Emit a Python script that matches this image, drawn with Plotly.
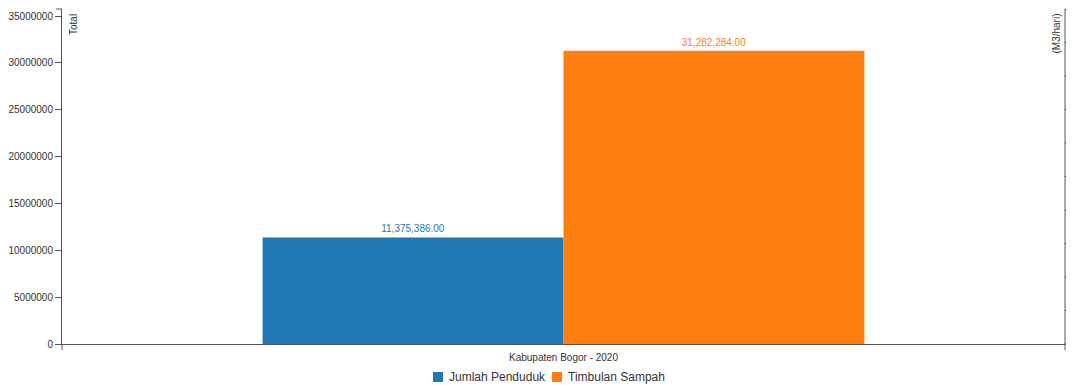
import plotly.graph_objects as go

categories = ["Kabupaten Bogor - 2020"]
jumlah_penduduk = [11375386]
timbulan_sampah = [31282284]
series_names = ["Jumlah Penduduk", "Timbulan Sampah"]
colors = ["#1f77b4", "#ff7f0e"]
y_ticks = [0, 5000000, 10000000, 15000000, 20000000, 25000000, 30000000, 35000000]
y2_ticks = [0, 0.1, 0.2, 0.3, 0.4, 0.5, 0.6, 0.7, 0.8, 0.9, 1.0]

FONT = "Liberation Sans, Arial, sans-serif"
AXIS_COLOR = "#555555"
TEXT_COLOR = "#333333"

# the page body adds an 8px offset; layout below is in figure pixels
OFF = 8
W, H = 1074 - OFF, 385 - OFF
PLOT_L, PLOT_R, PLOT_T, PLOT_B = 62 - OFF, 1065 - OFF, 9 - OFF, 344 - OFF
ML, MR, MT, MB = PLOT_L, W - PLOT_R, PLOT_T, H - PLOT_B
PW, PH = PLOT_R - PLOT_L, PLOT_B - PLOT_T


def px_x(px):
    return (px - OFF - PLOT_L) / PW


def px_y(py):
    return (PLOT_B - (py - OFF)) / PH


fig = go.Figure()
for name, vals, col in zip(series_names, [jumlah_penduduk, timbulan_sampah], colors):
    fig.add_trace(go.Bar(
        x=categories, y=vals, name=name, marker_color=col, marker_line_width=0,
        text=vals, texttemplate="%{y:,.2f}", textposition="outside",
        textfont=dict(color=col, size=10, family=FONT), cliponaxis=False,
        showlegend=False,
    ))

ymax = 35000000 * 335 / 328

legend_swatch_left = [433, 552]
annotations = [
    dict(text="Total", xref="paper", yref="paper", x=0, y=1, xanchor="left", yanchor="top",
         xshift=4, yshift=-3, textangle=-90, showarrow=False,
         font=dict(size=10, color=TEXT_COLOR, family=FONT)),
    dict(text="(M3/hari)", xref="paper", yref="paper", x=1, y=1, xanchor="right", yanchor="top",
         xshift=-2, yshift=-3, textangle=-90, showarrow=False,
         font=dict(size=10, color=TEXT_COLOR, family=FONT)),
]
shapes = [
    # right-hand secondary axis line (extends 6px below the x axis)
    dict(type="line", xref="paper", yref="paper", x0=1, x1=1, y0=1, y1=0,
         line=dict(color=AXIS_COLOR, width=1)),
    dict(type="line", xref="paper", yref="paper", x0=0, x1=0, ysizemode="pixel", yanchor=0,
         y0=0, y1=-6, line=dict(color=AXIS_COLOR, width=1)),
    dict(type="line", xref="paper", yref="paper", x0=1, x1=1, ysizemode="pixel", yanchor=0,
         y0=0, y1=-6, line=dict(color=AXIS_COLOR, width=1)),
    dict(type="line", xref="paper", yref="paper", y0=1, y1=1, xsizemode="pixel", xanchor=0,
         x0=-6, x1=0, line=dict(color=AXIS_COLOR, width=1)),
]
# right-hand (secondary) axis tick marks: its scale runs 0..1 over the plot height
for t in y2_ticks:
    shapes.append(dict(type="line", xref="paper", yref="paper", xsizemode="pixel", xanchor=1,
                       x0=0, x1=6, y0=t, y1=t, line=dict(color="#333333", width=1)))
for name, col, sx in zip(series_names, colors, legend_swatch_left):
    shapes.append(dict(type="rect", xref="paper", yref="paper",
                       x0=px_x(sx), x1=px_x(sx + 10), y0=px_y(382), y1=px_y(372),
                       fillcolor=col, line=dict(width=0)))
    annotations.append(dict(text=name, xref="paper", yref="paper", x=px_x(sx + 14), y=px_y(377),
                            xanchor="left", yanchor="middle", showarrow=False,
                            font=dict(size=12, color=TEXT_COLOR, family=FONT)))

fig.update_layout(
    width=W, height=H,
    margin=dict(l=ML, r=MR, t=MT, b=MB, autoexpand=False),
    plot_bgcolor="white", paper_bgcolor="white",
    font=dict(family=FONT, size=10, color=TEXT_COLOR),
    barmode="group", bargap=0.4, bargroupgap=0,
    showlegend=False,
    xaxis=dict(
        showline=True, linecolor=AXIS_COLOR, linewidth=1, mirror=False,
        ticks="outside", ticklen=4, tickcolor="rgba(0,0,0,0)",
        tickfont=dict(size=10, color=TEXT_COLOR), showgrid=False, zeroline=False,
        automargin=False,
    ),
    yaxis=dict(
        range=[0, ymax], tickvals=y_ticks, ticktext=[str(v) for v in y_ticks],
        showline=True, linecolor=AXIS_COLOR, linewidth=1,
        ticks="outside", ticklen=6, tickcolor=AXIS_COLOR,
        tickfont=dict(size=10, color=TEXT_COLOR), showgrid=False, zeroline=False,
        automargin=False,
    ),
    annotations=annotations,
    shapes=shapes,
)

fig.write_html("out.html")
